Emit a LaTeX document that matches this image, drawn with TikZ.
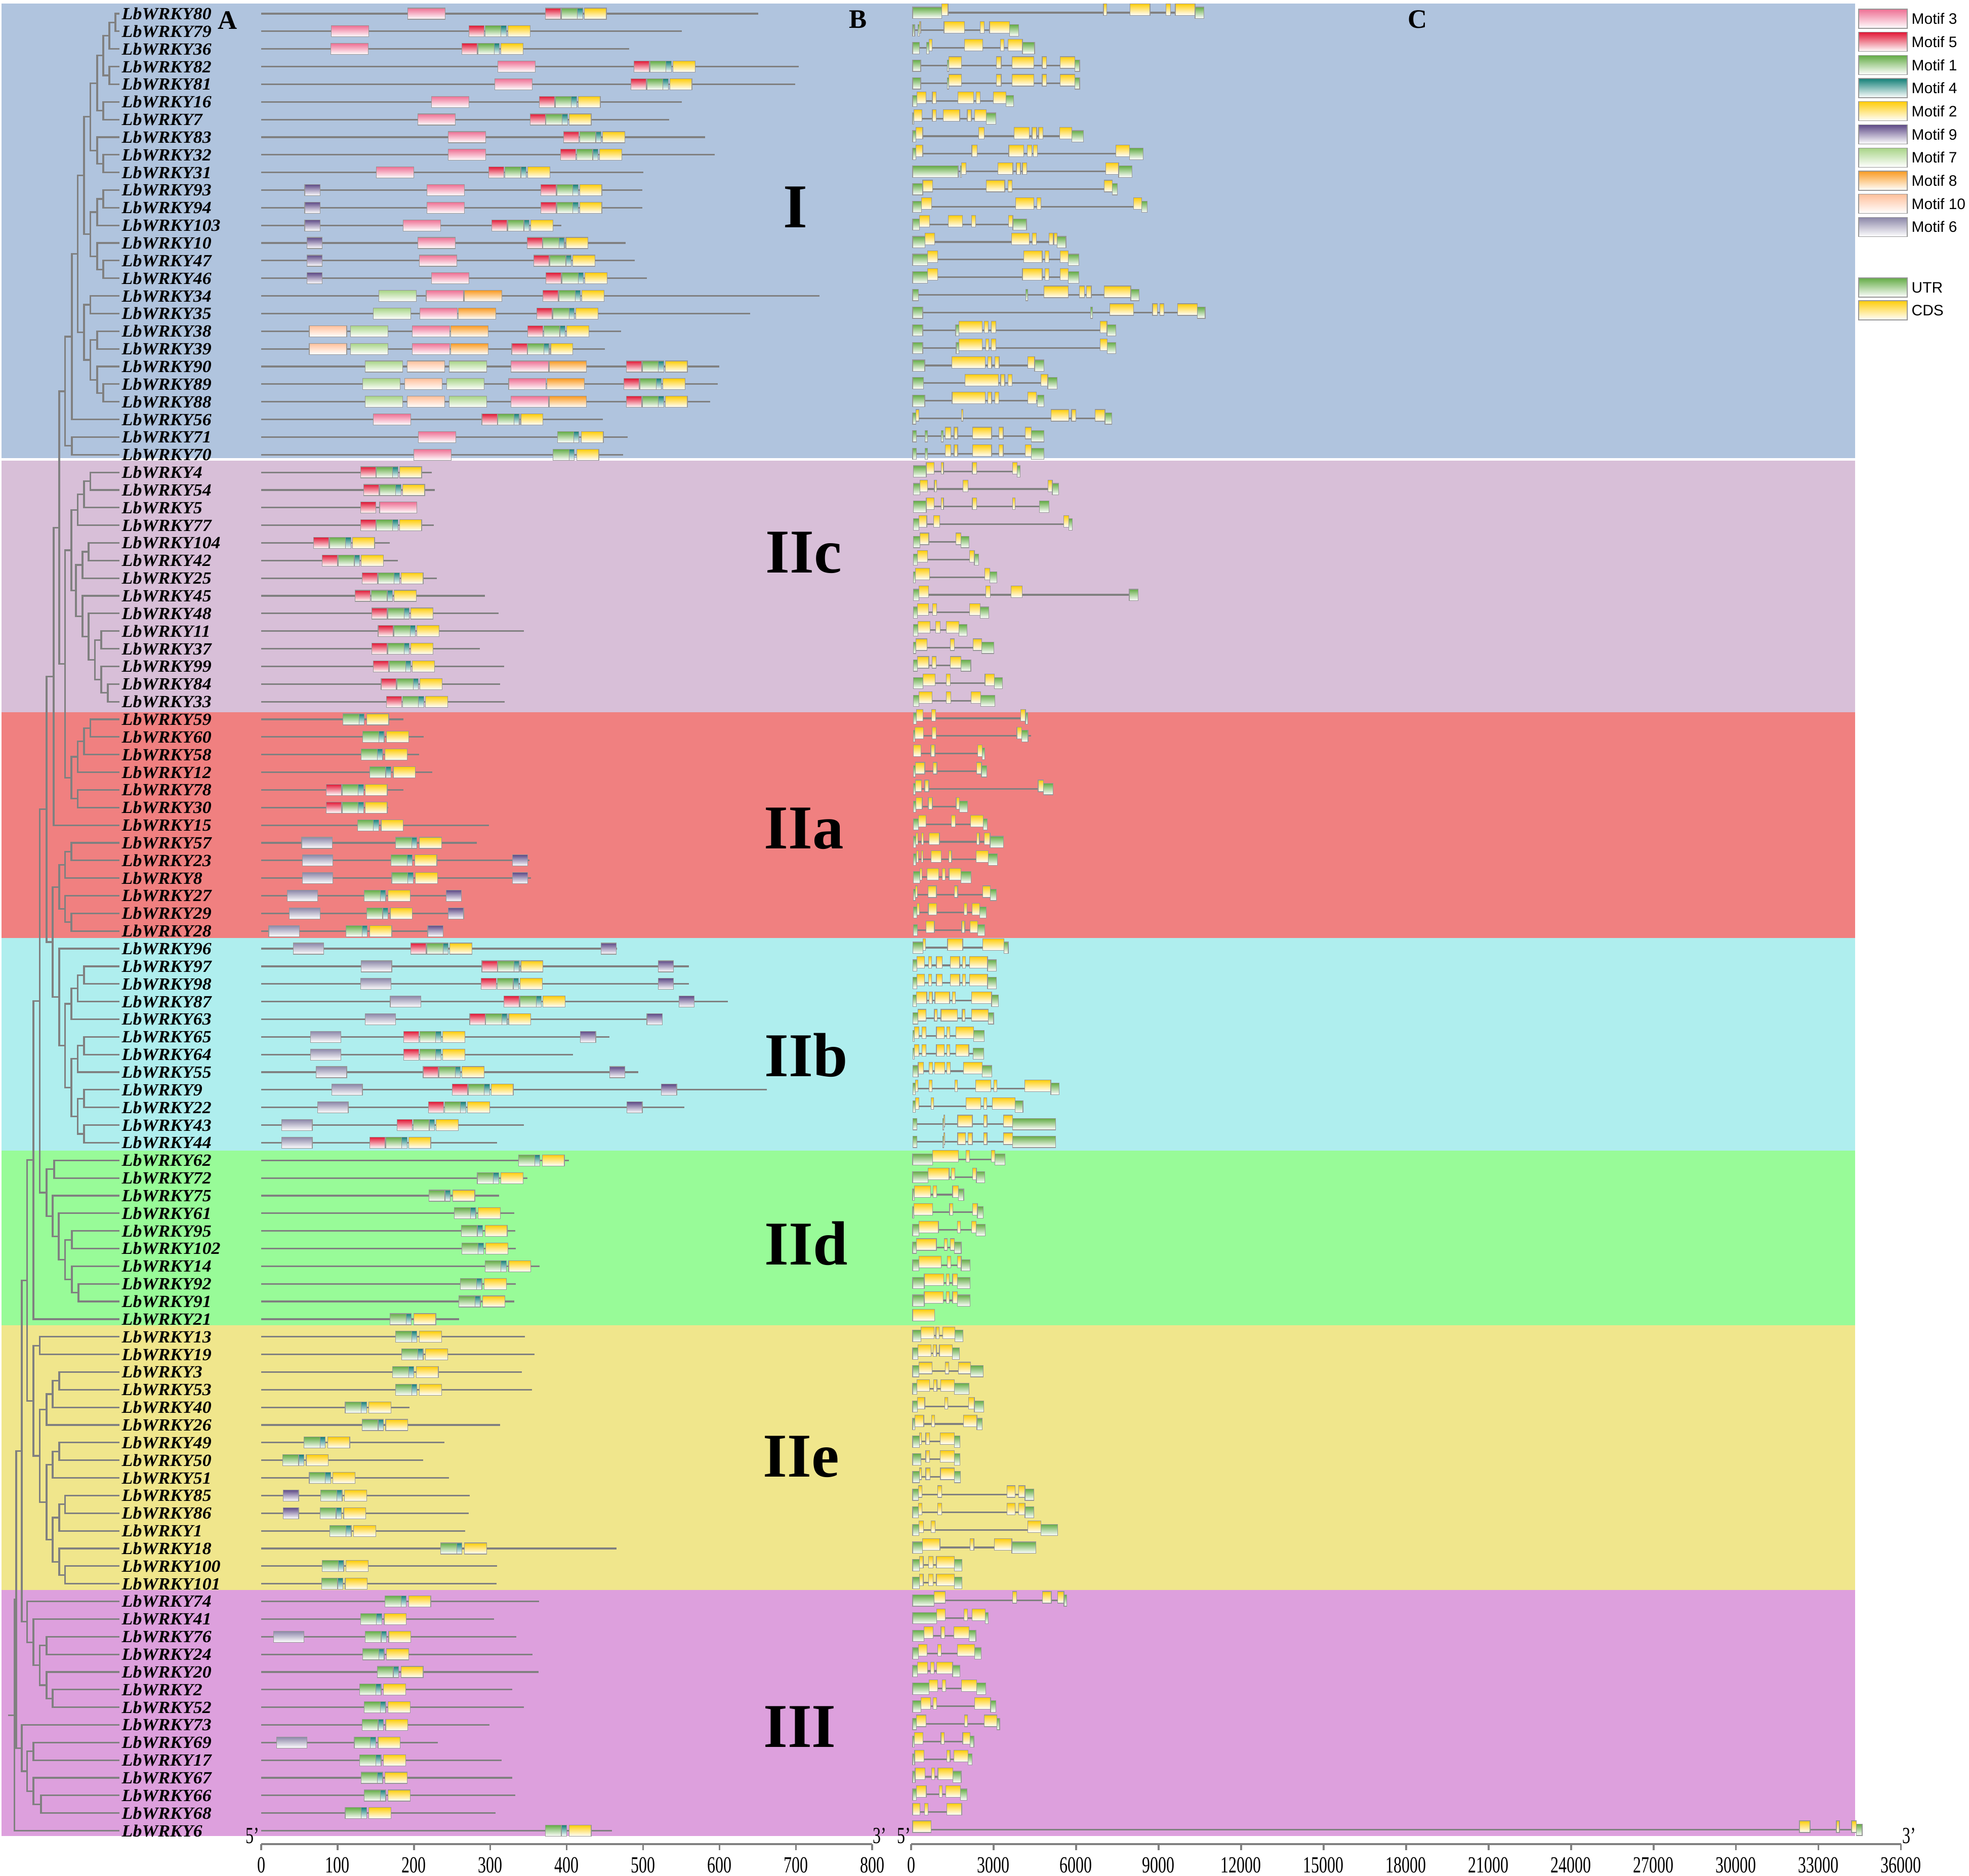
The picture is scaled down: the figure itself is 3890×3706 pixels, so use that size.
\documentclass[tikz,border=0pt]{standalone}
\usepackage{fontspec}
\setmainfont{Liberation Serif}
\newfontfamily\legfont{Liberation Sans}
\usetikzlibrary{calc}
\definecolor{bandI}{RGB}{176,196,222}
\definecolor{bandIIc}{RGB}{216,191,216}
\definecolor{bandIIa}{RGB}{240,128,128}
\definecolor{bandIIb}{RGB}{175,238,238}
\definecolor{bandIId}{RGB}{152,251,152}
\definecolor{bandIIe}{RGB}{240,230,140}
\definecolor{bandIII}{RGB}{221,160,221}
\definecolor{cthree}{RGB}{238,112,148}
\definecolor{cfive}{RGB}{225,25,55}
\definecolor{cone}{RGB}{100,172,70}
\definecolor{cfour}{RGB}{20,128,120}
\definecolor{ctwo}{RGB}{255,205,10}
\definecolor{cnine}{RGB}{95,75,135}
\definecolor{cseven}{RGB}{168,212,135}
\definecolor{ceight}{RGB}{250,155,35}
\definecolor{cten}{RGB}{255,192,155}
\definecolor{csix}{RGB}{140,135,168}
\definecolor{lgray}{RGB}{128,128,128}
\definecolor{bgray}{RGB}{150,150,150}
\tikzset{
 br/.style={draw=lgray,line width=0.9pt},
 pline/.style={draw=lgray,line width=0.9pt},
 mbox/.style={draw=bgray,line width=0.35pt,top color=#1,bottom color=white},
 mo3/.style={mbox=cthree}, mo5/.style={mbox=cfive}, mo1/.style={mbox=cone},
 mo4/.style={mbox=cfour}, mo2/.style={mbox=ctwo}, mo9/.style={mbox=cnine},
 mo7/.style={mbox=cseven}, mo8/.style={mbox=ceight}, mo10/.style={mbox=cten},
 mo6/.style={mbox=csix}, utrb/.style={mbox=cone}, cdsb/.style={mbox=ctwo},
 lab/.style={anchor=west,inner sep=0pt,xscale=1.06,font=\fontsize{9.6}{11}\selectfont\bfseries\itshape},
 grp/.style={inner sep=0pt,font=\fontsize{35}{40}\selectfont\bfseries},
 pan/.style={inner sep=0pt,font=\fontsize{15}{17}\selectfont\bfseries},
 axn/.style={inner sep=0pt,font=\fontsize{13}{14}\selectfont,xscale=0.7},
 axl/.style={draw=lgray,line width=1pt},
 legt/.style={anchor=west,inner sep=0pt,font=\legfont\fontsize{8.5}{10}\selectfont},
}
% tree clade: name, x, childA, childB
\newcommand\clade[4]{%
 \coordinate (X#1) at (#2,0);
 \coordinate (M#1) at ($(#3)!0.5!(#4)$);
 \coordinate (#1) at (M#1 -| X#1);
 \draw[br] (#3) -| (#1) |- (#4);}
% B panel
\newcommand\gl[2]{\draw[pline] (516,{27+34.85*#1}) -- ({516+1.509*(#2)},{27+34.85*#1});}
\newcommand\mot[4]{\path[#1] ({516+1.509*(#3)},{27+34.85*(#2)-11}) rectangle ({516+1.509*(#3+#4)},{27+34.85*(#2)+11});}
\newcommand\DA[2]{\mot{mo5}{#1}{#2}{20}\mot{mo1}{#1}{#2+21}{21}\mot{mo4}{#1}{#2+42}{7}\mot{mo2}{#1}{#2+51}{29}}
\newcommand\DB[2]{\mot{mo1}{#1}{#2}{21}\mot{mo4}{#1}{#2+21}{7}\mot{mo2}{#1}{#2+31}{29}}
% C panel
\def\sclC{0.574}
\newcommand\gL[3]{\draw[pline] ({1780+\sclC*#2},{25+34.85*#1}) -- ({1780+\sclC*#3},{25+34.85*#1});}
\newcommand\gU[3]{\path[utrb] ({1780+\sclC*#2},{25+34.85*#1-11}) rectangle ({1780+\sclC*#3},{25+34.85*#1+11.5});}
\newcommand\gC[3]{\path[cdsb] ({1780+\sclC*#2},{25+34.85*#1-17.5}) rectangle ({1780+\sclC*#3},{25+34.85*#1+5.5});}
\newcommand\gene[4]{\gL{#1}{#2}{#3}\foreach \tp/\xa/\xb in {#4}{\csname g\tp\endcsname{#1}{\xa}{\xb}}}
\begin{document}
\begin{tikzpicture}[x=0.01cm,y=-0.01cm]
\useasboundingbox (0,0) rectangle (3890,3706);
\fill[white] (0,0) rectangle (3890,3706);
% bands
\fill[bandI] (3,7) rectangle (3665,905);
\fill[bandIIc] (3,910) rectangle (3665,1407);
\fill[bandIIa] (3,1407) rectangle (3665,1853);
\fill[bandIIb] (3,1853) rectangle (3665,2273);
\fill[bandIId] (3,2273) rectangle (3665,2618);
\fill[bandIIe] (3,2618) rectangle (3665,3141);
\fill[bandIII] (3,3141) rectangle (3665,3627);
% leaves and labels
\foreach \n [count=\i from 0] in {80,79,36,82,81,16,7,83,32,31,93,94,103,10,47,46,34,35,38,39,90,89,88,56,71,70,
 4,54,5,77,104,42,25,45,48,11,37,99,84,33,
 59,60,58,12,78,30,15,57,23,8,27,29,28,
 96,97,98,87,63,65,64,55,9,22,43,44,
 62,72,75,61,95,102,14,92,91,21,
 13,19,3,53,40,26,49,50,51,85,86,1,18,100,101,
 74,41,76,24,20,2,52,73,69,17,67,66,68,6}{
 \coordinate (L\n) at (236,{27+34.85*\i});
 \node[lab] (t\n) at (240,{27+34.85*\i}) {LbWRKY\n};
}
% tree group I
\clade{c1}{228}{L80}{L79}
\clade{c2}{216}{c1}{L36}
\clade{c3}{216}{L82}{L81}
\clade{c4}{204}{c2}{c3}
\clade{c5}{204}{L16}{L7}
\clade{c6}{192}{c4}{c5}
\clade{c7}{204}{L32}{L31}
\clade{c8}{192}{L83}{c7}
\clade{c9}{178.5}{c6}{c8}
\clade{c10}{204}{L93}{L94}
\clade{c11}{192}{c10}{L103}
\clade{c12}{204}{L47}{L46}
\clade{c13}{192}{L10}{c12}
\clade{c14}{178.5}{c11}{c13}
\clade{c15}{166}{c9}{c14}
\clade{c16}{178.5}{L34}{L35}
\clade{c17}{192}{L38}{L39}
\clade{c18}{204}{L89}{L88}
\clade{c19}{192}{L90}{c18}
\clade{c20}{178.5}{c17}{c19}
\clade{c21}{166}{c16}{c20}
\clade{c22}{153.5}{c15}{c21}
\clade{c23}{142}{c22}{L56}
\clade{c24}{142}{L71}{L70}
\clade{cI}{128.5}{c23}{c24}
% IIc
\clade{d1}{178.5}{L4}{L54}
\clade{d2}{166}{d1}{L5}
\clade{d3}{153.5}{d2}{L77}
\clade{d4}{175}{L104}{L42}
\clade{d5}{163}{d4}{L25}
\clade{d6}{200}{L11}{L37}
\clade{d7}{213}{L84}{L33}
\clade{d8}{200}{L99}{d7}
\clade{d9}{187.5}{d6}{d8}
\clade{d10}{175}{L48}{d9}
\clade{d11}{163}{L45}{d10}
\clade{d12}{150}{d5}{d11}
\clade{dC}{141}{d3}{d12}
% IIa
\clade{e1}{178.5}{L59}{L60}
\clade{e2}{166}{e1}{L58}
\clade{e3}{153.5}{e2}{L12}
\clade{e4}{153.5}{L78}{L30}
\clade{e5}{141}{e3}{e4}
\clade{f1}{128.5}{dC}{e5}
\clade{g1}{117}{cI}{f1}
\clade{g2}{106}{g1}{L15}
\clade{h1}{141}{L57}{L23}
\clade{h2}{128.5}{h1}{L8}
\clade{h3}{141}{L29}{L28}
\clade{h4}{128.5}{L27}{h3}
\clade{h5}{117}{h2}{h4}
% IIb
\clade{k1}{166}{L97}{L98}
\clade{k2}{153.5}{k1}{L87}
\clade{k3}{141}{k2}{L63}
\clade{k4}{166}{L65}{L64}
\clade{k5}{153.5}{k4}{L55}
\clade{k6}{166}{L9}{L22}
\clade{k7}{166}{L43}{L44}
\clade{k8}{153.5}{k6}{k7}
\clade{k9}{141}{k5}{k8}
\clade{k10}{128.5}{k3}{k9}
\clade{k11}{117}{L96}{k10}
\clade{m1}{104}{h5}{k11}
\clade{m2}{92}{g2}{m1}
% IId
\clade{n1}{107}{L62}{L72}
\clade{n2}{155}{L92}{L91}
\clade{n3}{142}{L14}{n2}
\clade{n4}{142}{L95}{L102}
\clade{n5}{128.5}{n4}{n3}
\clade{n6}{116}{L61}{n5}
\clade{n7}{104}{L75}{n6}
\clade{n8}{92}{n1}{n7}
\clade{s1}{78.5}{m2}{n8}
\clade{s2}{66}{s1}{L21}
% IIe
\clade{p1}{78.5}{L13}{L19}
\clade{p2}{117}{L3}{L53}
\clade{p3}{104}{p2}{L40}
\clade{p4}{92}{p3}{L26}
\clade{p5}{117}{L49}{L50}
\clade{p6}{104}{p5}{L51}
\clade{p7}{128.5}{L85}{L86}
\clade{p8}{117}{p7}{L1}
\clade{p9}{128.5}{L100}{L101}
\clade{p10}{117}{L18}{p9}
\clade{p11}{104}{p8}{p10}
\clade{p12}{92}{p6}{p11}
\clade{p13}{78.5}{p4}{p12}
\clade{p14}{66}{p1}{p13}
\clade{s3}{53.5}{s2}{p14}
% III
\clade{r1}{104}{L2}{L52}
\clade{r2}{92}{L20}{r1}
\clade{r3}{92}{L76}{L24}
\clade{r4}{78.5}{r3}{r2}
\clade{r5}{66}{L41}{r4}
\clade{r6}{53.5}{L74}{r5}
\clade{s4}{43}{s3}{r6}
\clade{r7}{66}{L69}{L17}
\clade{r8}{81}{L66}{L68}
\clade{r9}{66}{L67}{r8}
\clade{r10}{53.5}{r7}{r9}
\clade{r11}{43}{L73}{r10}
\clade{s5}{32}{s4}{r11}
\clade{root}{28.5}{s5}{L6}
\coordinate (Xstem) at (16,0);
\coordinate (stem) at (root -| Xstem);
\draw[br] (root) -- (stem);
% group labels
\node[grp] (gI) at (1571,409) {I};
\node[grp] (gIIc) at (1588,1092) {IIc};
\node[grp] (gIIa) at (1588,1637) {IIa};
\node[grp] (gIIb) at (1593,2084) {IIb};
\node[grp] (gIId) at (1593,2456) {IId};
\node[grp] (gIIe) at (1583,2878) {IIe};
\node[grp] (gIII) at (1580,3411) {III};
\node[pan] (pA) at (450,40) {A};
\node[pan] (pB) at (1695,38) {B};
\node[pan] (pC) at (2801,38) {C};
% ===== B panel: motifs =====
\gl{0}{651}\mot{mo3}{0}{192}{49}\DA{0}{372}
\gl{1}{551}\mot{mo3}{1}{92}{49}\DA{1}{272}
\gl{2}{482}\mot{mo3}{2}{91}{49}\DA{2}{263}
\gl{3}{704}\mot{mo3}{3}{310}{49}\DA{3}{488}
\gl{4}{699}\mot{mo3}{4}{306}{49}\DA{4}{484}
\gl{5}{551}\mot{mo3}{5}{223}{49}\DA{5}{364}
\gl{6}{534}\mot{mo3}{6}{205}{49}\DA{6}{352}
\gl{7}{581}\mot{mo3}{7}{245}{49}\DA{7}{396}
\gl{8}{594}\mot{mo3}{8}{245}{49}\DA{8}{392}
\gl{9}{500}\mot{mo3}{9}{151}{49}\DA{9}{298}
\gl{10}{499}\mot{mo9}{10}{57}{20}\mot{mo3}{10}{217}{49}\DA{10}{366}
\gl{11}{499}\mot{mo9}{11}{57}{20}\mot{mo3}{11}{217}{49}\DA{11}{366}
\gl{12}{393}\mot{mo9}{12}{57}{20}\mot{mo3}{12}{186}{49}\DA{12}{302}
\gl{13}{477}\mot{mo9}{13}{60}{20}\mot{mo3}{13}{205}{49}\DA{13}{348}
\gl{14}{489}\mot{mo9}{14}{60}{20}\mot{mo3}{14}{207}{49}\DA{14}{357}
\gl{15}{505}\mot{mo9}{15}{60}{20}\mot{mo3}{15}{223}{49}\DA{15}{373}
\gl{16}{731}\mot{mo7}{16}{154}{49}\mot{mo3}{16}{216}{49}\mot{mo8}{16}{266}{49}\DA{16}{369}
\gl{17}{640}\mot{mo7}{17}{147}{49}\mot{mo3}{17}{208}{49}\mot{mo8}{17}{258}{49}\DA{17}{361}
\gl{18}{471}\mot{mo10}{18}{63}{49}\mot{mo7}{18}{117}{49}\mot{mo3}{18}{198}{49}\mot{mo8}{18}{248}{49}\DA{18}{349}
\gl{19}{450}\mot{mo10}{19}{63}{49}\mot{mo7}{19}{117}{49}\mot{mo3}{19}{198}{49}\mot{mo8}{19}{248}{49}\DA{19}{328}
\gl{20}{600}\mot{mo7}{20}{136}{49}\mot{mo10}{20}{191}{49}\mot{mo7}{20}{246}{49}\mot{mo3}{20}{327}{49}\mot{mo8}{20}{377}{49}\DA{20}{478}
\gl{21}{598}\mot{mo7}{21}{133}{49}\mot{mo10}{21}{188}{49}\mot{mo7}{21}{243}{49}\mot{mo3}{21}{324}{49}\mot{mo8}{21}{374}{49}\DA{21}{475}
\gl{22}{588}\mot{mo7}{22}{136}{49}\mot{mo10}{22}{191}{49}\mot{mo7}{22}{246}{49}\mot{mo3}{22}{327}{49}\mot{mo8}{22}{377}{49}\DA{22}{478}
\gl{23}{447}\mot{mo3}{23}{147}{49}\DA{23}{289}
\gl{24}{480}\mot{mo3}{24}{206}{49}\DB{24}{388}
\gl{25}{474}\mot{mo3}{25}{200}{49}\DB{25}{382}
\gl{26}{223}\DA{26}{130}
\gl{27}{227}\DA{27}{134}
\gl{28}{204}\mot{mo5}{28}{130}{20}\mot{mo3}{28}{155}{49}
\gl{29}{226}\DA{29}{130}
\gl{30}{168}\DA{30}{68.5}
\gl{31}{179}\DA{31}{80}
\gl{32}{230}\DA{32}{132}
\gl{33}{293}\DA{33}{123}
\gl{34}{311}\DA{34}{145}
\gl{35}{344}\DA{35}{153}
\gl{36}{286}\DA{36}{145}
\gl{37}{318}\DA{37}{147}
\gl{38}{313}\DA{38}{157}
\gl{39}{319}\DA{39}{164}
\gl{40}{186.5}\DB{40}{107}
\gl{41}{212.5}\DB{41}{133}
\gl{42}{206.5}\DB{42}{131}
\gl{43}{224}\DB{43}{142}
\gl{44}{186.5}\DA{44}{85}
\gl{45}{166}\DA{45}{85}
\gl{46}{298}\DB{46}{126}
\gl{47}{282}\mot{mo6}{47}{53}{40}\DB{47}{176}
\gl{48}{351}\mot{mo6}{48}{54}{40}\DB{48}{170}\mot{mo9}{48}{329}{20}
\gl{49}{353.5}\mot{mo6}{49}{54}{40}\DB{49}{171}\mot{mo9}{49}{329}{20}
\gl{50}{262}\mot{mo6}{50}{34}{40}\DB{50}{135}\mot{mo9}{50}{242}{20}
\gl{51}{264}\mot{mo6}{51}{37}{40}\DB{51}{138}\mot{mo9}{51}{245}{20}
\gl{52}{238}\mot{mo6}{52}{10}{40}\DB{52}{111}\mot{mo9}{52}{218}{20}
\gl{53}{466}\mot{mo6}{53}{42}{40}\DA{53}{196}\mot{mo9}{53}{445}{20}
\gl{54}{560}\mot{mo6}{54}{131}{40}\DA{54}{289}\mot{mo9}{54}{520}{20}
\gl{55}{560}\mot{mo6}{55}{130}{40}\DA{55}{288}\mot{mo9}{55}{520}{20}
\gl{56}{611}\mot{mo6}{56}{169}{40}\DA{56}{318}\mot{mo9}{56}{547}{20}
\gl{57}{525}\mot{mo6}{57}{136}{40}\DA{57}{273}\mot{mo9}{57}{505}{20}
\gl{58}{456}\mot{mo6}{58}{64.5}{40}\DA{58}{186.5}\mot{mo9}{58}{418}{20}
\gl{59}{408}\mot{mo6}{59}{64.5}{40}\DA{59}{186.5}
\gl{60}{494}\mot{mo6}{60}{72}{40}\DA{60}{212}\mot{mo9}{60}{456}{20}
\gl{61}{662}\mot{mo6}{61}{92.5}{40}\DA{61}{250}\mot{mo9}{61}{524}{20}
\gl{62}{554}\mot{mo6}{62}{74}{40}\DA{62}{219}\mot{mo9}{62}{479}{20}
\gl{63}{344}\mot{mo6}{63}{27}{40}\DA{63}{178}
\gl{64}{309}\mot{mo6}{64}{27}{40}\DA{64}{142}
\gl{65}{403}\DB{65}{337}
\gl{66}{348.5}\DB{66}{283}
\gl{67}{311.6}\DB{67}{219.6}
\gl{68}{331.6}\DB{68}{253}
\gl{69}{332.6}\DB{69}{262}
\gl{70}{333.6}\DB{70}{263}
\gl{71}{364.7}\DB{71}{293}
\gl{72}{333.6}\DB{72}{261}
\gl{73}{331.6}\DB{73}{259}
\gl{74}{259}\DB{74}{168.6}
\gl{75}{345}\DB{75}{176}
\gl{76}{358}\DB{76}{184}
\gl{77}{341}\DB{77}{172}
\gl{78}{354.5}\DB{78}{176}
\gl{79}{194}\DB{79}{110}
\gl{80}{312.6}\DB{80}{132}
\gl{81}{239.6}\DB{81}{56}
\gl{82}{212}\DB{82}{28}
\gl{83}{246}\DB{83}{63}
\gl{84}{272.7}\mot{mo9}{84}{29}{20}\DB{84}{78}
\gl{85}{271.7}\mot{mo9}{85}{29}{20}\DB{85}{77}
\gl{86}{267}\DB{86}{90}
\gl{87}{465}\DB{87}{235}
\gl{88}{309}\DB{88}{80}
\gl{89}{308}\DB{89}{79}
\gl{90}{364}\DB{90}{162}
\gl{91}{304.5}\DB{91}{130}
\gl{92}{334}\mot{mo6}{92}{16}{40}\DB{92}{136}
\gl{93}{355}\DB{93}{133}
\gl{94}{363}\DB{94}{152}
\gl{95}{329}\DB{95}{129}
\gl{96}{344}\DB{96}{135}
\gl{97}{299}\DB{97}{132}
\gl{98}{231}\mot{mo6}{98}{20}{40}\DB{98}{122}
\gl{99}{315}\DB{99}{129}
\gl{100}{329}\DB{100}{131}
\gl{101}{332.6}\DB{101}{135}
\gl{102}{306.5}\DB{102}{110}
\gl{103}{459}\DB{103}{372}
% ===== C panel: gene structures =====
\def\sclC{0.574}
\gene{0}{40}{1043}{U/40/140,C/140/162,C/697/708,C/788/857,C/912/927,C/944/1012,U/1012/1043}
\gene{1}{40}{405}{U/40/47,U/58/63,C/63/68,C/148/218,C/272/287,C/305/374,U/374/405}
\gene{2}{40}{460}{U/40/63,U/88/97,C/97/107,C/219/281,C/342/355,C/368/418,U/418/460}
\gene{3}{40}{615}{U/40/68,U/160/165,C/165/208,C/328/345,C/382/457,C/486/501,C/548/598,U/598/615}
\gene{4}{40}{615}{U/40/68,U/160/165,C/165/208,C/328/345,C/383/457,C/486/501,C/548/598,U/598/615}
\gene{5}{40}{387}{U/40/55,C/55/86,C/108/121,C/196/250,C/259/273,C/318/361,U/361/387}
\gene{6}{40}{327}{U/40/45,C/45/72,C/108/121,C/146/202,C/228/242,C/253/294,U/294/327}
\gene{7}{40}{628}{U/40/52,C/52/75,C/268/287,C/389/441,C/451/467,C/474/489,C/546/588,U/588/628}
\gene{8}{40}{833}{U/40/52,C/52/75,C/244/262,C/371/423,C/435/450,C/456/470,C/740/787,U/787/833}
\gene{9}{40}{795}{U/40/197,U/204/208,C/208/224,C/333/385,C/397/411,C/418/433,C/704/749,U/749/795}
\gene{10}{40}{745}{U/40/75,C/75/109,C/293/357,C/368/382,C/700/727,U/727/745}
\gene{11}{40}{847}{U/40/70,C/70/105,C/394/457,C/468/482,C/801/828,U/828/847}
\gene{12}{40}{432}{U/40/64,C/64/99,C/163/211,C/243/257,C/370/385,U/385/432}
\gene{13}{40}{568}{U/40/83,C/83/116,C/380/442,C/452/466,C/509/524,C/526/537,U/537/568}
\gene{14}{40}{612}{U/40/91,C/91/126,C/423/486,C/496/510,C/548/576,U/576/612}
\gene{15}{40}{612}{U/40/91,C/91/126,C/418/486,C/496/510,C/548/576,U/576/612}
\gene{16}{40}{820}{U/40/60,U/430/436,C/492/576,C/614/631,C/639/655,C/700/791,U/791/820}
\gene{17}{40}{1047}{U/40/75,U/652/660,C/719/801,C/866/882,C/891/905,C/952/1020,U/1020/1047}
\gene{18}{40}{740}{U/40/75,U/188/200,C/200/279,C/287/300,C/311/326,C/685/709,U/709/740}
\gene{19}{40}{740}{U/40/75,U/190/200,C/200/280,C/292/302,C/311/326,C/686/710,U/710/740}
\gene{20}{40}{492}{U/40/82,C/175/290,C/299/312,C/323/338,C/437/460,U/460/492}
\gene{21}{40}{537}{U/40/78,C/221/335,C/343/357,C/368/382,C/481/505,U/505/537}
\gene{22}{40}{492}{U/40/82,C/176/290,C/299/312,C/323/337,C/437/466,U/470/492}
\gene{23}{40}{725}{U/40/52,C/52/62,C/208/213,C/516/578,C/587/602,C/668/702,U/702/725}
\gene{24}{40}{492}{U/40/53,U/83/91,U/138/145,C/152/172,C/183/195,C/247/312,C/337/352,C/428/449,U/449/492}
\gene{25}{40}{492}{U/40/53,U/83/91,C/152/172,C/183/195,C/247/312,C/337/352,C/428/449,U/449/492}
\def\sclC{0.4464}
\gene{26}{55}{528}{U/55/112,C/112/146,C/178/188,C/316/335,C/494/514,U/514/528}
\gene{27}{55}{698}{U/55/84,C/84/118,C/148/158,C/275/297,C/650/670,U/670/698}
\gene{28}{55}{656}{U/55/112,C/112/146,C/178/188,C/316/335,C/494/505,U/612/656}
\gene{29}{55}{758}{U/55/80,C/80/114,C/144/172,C/721/742,U/742/758}
\gene{30}{55}{302}{U/55/84,C/84/123,C/243/265,U/265/302}
\gene{31}{55}{343}{U/55/73,C/73/118,C/303/325,U/325/343}
\gene{32}{55}{425}{U/55/63,C/63/126,C/371/393,U/393/425}
\gene{33}{55}{1050}{U/55/80,C/80/122,C/376/395,C/487/537,U/1010/1050}
\gene{34}{55}{389}{U/55/73,C/73/122,C/140/158,C/303/350,U/350/389}
\gene{35}{55}{292}{U/55/75,C/75/129,C/153/173,C/201/256,U/256/292}
\gene{36}{55}{411}{U/55/66,C/66/116,C/219/237,C/319/357,U/357/411}
\gene{37}{55}{309}{U/55/73,C/73/123,C/138/156,C/218/266,U/266/309}
\gene{38}{55}{449}{U/55/98,C/98/151,C/201/218,C/372/414,U/414/449}
\gene{39}{55}{415}{U/55/80,C/80/137,C/201/221,C/310/352,U/352/415}
\gene{40}{55}{561}{U/55/68,C/68/97,C/136/154,C/529/551,U/551/561}
\gene{41}{55}{575}{U/55/62,C/62/99,C/138/156,C/513/535,U/535/562}
\gene{42}{55}{370}{C/55/88,C/132/150,C/340/360,U/360/370}
\gene{43}{55}{380}{U/55/64,C/64/105,C/142/159,C/334/356,U/356/380}
\gene{44}{55}{673}{U/55/64,C/64/91,C/105/123,C/607/630,U/630/673}
\gene{45}{55}{295}{U/55/66,C/66/94,C/121/139,C/244/259,U/259/295}
\gene{46}{55}{382}{U/55/77,C/77/110,C/222/241,C/308/364,U/364/382}
\gene{47}{55}{453}{U/55/66,C/66/75,C/91/99,C/124/170,C/334/347,C/369/394,U/394/453}
\gene{48}{55}{427}{U/55/66,C/68/77,C/90/97,C/134/178,C/211/224,C/332/386,U/386/427}
\gene{49}{55}{310}{U/55/84,C/84/93,C/116/166,C/183/196,C/213/266,U/266/310}
\gene{50}{55}{422}{U/55/64,C/64/73,C/119/157,C/236/251,C/362/395,U/395/422}
\gene{51}{55}{378}{U/55/71,C/71/82,C/121/158,C/278/292,C/315/349,U/349/378}
\gene{52}{55}{370}{U/55/73,C/110/148,C/269/282,C/306/339,U/339/370}
\gene{53}{52}{475}{U/52/97,C/97/108,C/206/273,C/362/456,U/456/475}
\gene{54}{52}{422}{U/52/71,C/71/104,C/122/136,C/157/183,C/218/260,C/272/286,C/303/383,U/383/422}
\gene{55}{52}{422}{U/52/71,C/71/104,C/122/136,C/157/183,C/218/260,C/272/286,C/303/383,U/383/422}
\gene{56}{52}{431}{U/52/68,C/68/114,C/125/139,C/150/215,C/227/241,C/312/401,U/401/431}
\gene{57}{52}{410}{U/52/75,C/75/111,C/148/160,C/177/250,C/271/284,C/312/386,U/386/410}
\gene{58}{52}{368}{U/52/60,C/60/80,C/93/110,C/157/192,C/203/216,C/243/321,U/321/368}
\gene{59}{52}{368}{U/52/60,C/60/80,C/93/110,C/157/192,C/203/216,C/243/300,U/320/366}
\gene{60}{52}{402}{U/52/76,C/76/100,C/125/140,C/149/194,C/203/218,C/276/359,U/359/402}
\gene{61}{52}{700}{U/52/64,C/64/75,C/124/137,C/239/250,C/331/398,C/411/425,C/548/663,U/663/700}
\gene{62}{52}{540}{U/52/63,C/63/79,C/133/145,C/288/352,C/366/380,C/404/505,U/505/540}
\gene{63}{52}{685}{U/52/70,U/185/189,C/189/193,C/251/316,C/367/381,C/454/494,U/494/685}
\gene{64}{52}{685}{U/52/70,U/185/189,C/189/193,C/251/285,C/297/316,C/367/381,C/454/494,U/494/685}
\def\sclC{0.5102}
\gene{65}{45}{402}{U/45/123,C/123/222,C/252/265,C/350/364,U/364/402}
\gene{66}{45}{325}{U/45/105,C/105/186,C/195/208,C/277/292,U/292/325}
\gene{67}{45}{243}{U/45/52,C/52/115,C/124/138,C/200/222,U/222/243}
\gene{68}{45}{318}{U/45/50,C/50/122,C/188/201,C/277/296,U/296/318}
\gene{69}{45}{327}{U/45/70,C/70/145,C/218/231,C/274/291,U/291/327}
\gene{70}{45}{233}{U/45/60,C/60/137,C/168/180,C/191/206,U/206/233}
\gene{71}{45}{268}{U/45/70,C/70/156,C/179/193,C/218/233,U/233/268}
\gene{72}{45}{267}{U/45/90,C/90/166,C/175/187,C/200/218,U/218/267}
\gene{73}{45}{267}{U/45/90,C/90/164,C/175/187,C/200/218,U/218/267}
\gene{74}{45}{130}{C/45/130}
\gene{75}{45}{240}{U/45/78,C/78/128,C/135/148,C/161/209,U/209/240}
\gene{76}{45}{226}{U/45/65,C/65/117,C/124/137,C/149/199,U/199/226}
\gene{77}{45}{318}{U/45/70,C/70/120,C/172/185,C/222/270,U/270/318}
\gene{78}{45}{263}{U/45/62,C/62/111,C/126/139,C/154/206,U/206/263}
\gene{79}{45}{320}{U/45/63,C/63/92,C/170/181,C/262/284,U/284/320}
\gene{80}{45}{315}{U/45/54,C/54/88,C/118/130,C/242/294,U/294/315}
\gene{81}{45}{228}{U/45/71,C/71/80,C/96/110,C/152/206,U/206/228}
\gene{82}{45}{228}{U/45/78,C/96/110,C/152/206,U/206/228}
\gene{83}{45}{230}{U/45/71,C/71/80,C/96/112,C/153/206,U/206/230}
\gene{84}{45}{515}{U/45/67,C/67/82,C/142/158,C/410/442,C/456/480,U/480/515}
\gene{85}{45}{515}{U/45/67,C/67/82,C/142/158,C/410/442,C/456/480,U/480/515}
\gene{86}{45}{606}{U/45/70,C/70/87,C/116/132,C/491/542,U/542/606}
\gene{87}{45}{522}{U/45/84,C/84/151,C/268/282,C/361/429,U/429/522}
\gene{88}{45}{236}{U/45/72,C/72/86,C/107/124,C/137/206,U/206/236}
\gene{89}{45}{236}{U/45/72,C/72/86,C/107/124,C/137/206,U/206/236}
\gene{90}{45}{642}{U/45/129,C/129/172,C/432/448,C/548/582,C/606/631,U/631/642}
\gene{91}{45}{338}{U/45/138,C/138/172,C/244/257,C/276/327,U/327/338}
\gene{92}{45}{290}{U/45/89,C/89/124,C/155/169,C/205/264,U/264/290}
\gene{93}{45}{311}{U/45/67,C/67/101,C/142/156,C/219/285,U/285/311}
\gene{94}{45}{228}{U/45/63,C/63/103,C/115/129,C/138/200,U/200/228}
\gene{95}{45}{328}{U/45/109,C/109/142,C/160/174,C/234/293,U/293/328}
\gene{96}{45}{368}{U/45/78,C/78/114,C/124/138,C/285/347,U/347/368}
\gene{97}{45}{382}{U/45/60,C/60/97,C/246/257,C/323/371,U/371/382}
\gene{98}{45}{282}{U/45/52,C/52/85,C/155/167,C/239/268,U/268/282}
\gene{99}{45}{275}{U/45/53,C/53/89,C/178/190,C/205/260,U/260/275}
\gene{100}{45}{233}{U/45/55,C/55/93,C/118/130,C/143/201,U/201/233}
\gene{101}{45}{256}{U/45/60,C/60/98,C/148/160,C/173/231,U/231/256}
\gene{102}{45}{235}{C/45/74,C/91/105,C/177/235}
\gene{103}{45}{3722}{C/45/116,C/3479/3520,C/3622/3634,C/3681/3700,U/3700/3722}
% ===== axes =====
\draw[axl] (516,3643) -- (1723,3643);
\foreach \v in {0,100,...,800}{
 \draw[axl] ({516+1.509*\v},3643) -- ++(0,12);
 \node[axn] (bt\v) at ({516+1.509*\v},3684) {\v};
}
\node[axn] (b5) at (499,3626) {5'};
\node[axn] (b3) at (1738,3626) {3'};
\draw[axl] (1800,3643) -- (3756,3643);
\foreach \k in {0,...,12}{
 \draw[axl] ({1800+162.97*\k},3643) -- ++(0,12);
 \node[axn] (ct\k) at ({1800+162.97*\k},3684) {\number\numexpr3000*\k\relax};
}
\node[axn] (c5) at (1786,3626) {5'};
\node[axn] (c3) at (3772,3626) {3'};
% ===== legend =====
\foreach \s/\t [count=\j from 0] in {mo3/Motif 3,mo5/Motif 5,mo1/Motif 1,mo4/Motif 4,mo2/Motif 2,mo9/Motif 9,mo7/Motif 7,mo8/Motif 8,mo10/Motif 10,mo6/Motif 6}{
 \path[\s] (3672,{37+45.7*\j-19}) rectangle (3768,{37+45.7*\j+19});
 \node[legt] (lg\j) at (3776,{37+45.7*\j}) {\t};
}
\path[utrb] (3672,549) rectangle (3768,587);
\node[legt] (lgU) at (3776,568) {UTR};
\path[cdsb] (3672,594) rectangle (3768,632);
\node[legt] (lgC) at (3776,613) {CDS};
\end{tikzpicture}
\end{document}
